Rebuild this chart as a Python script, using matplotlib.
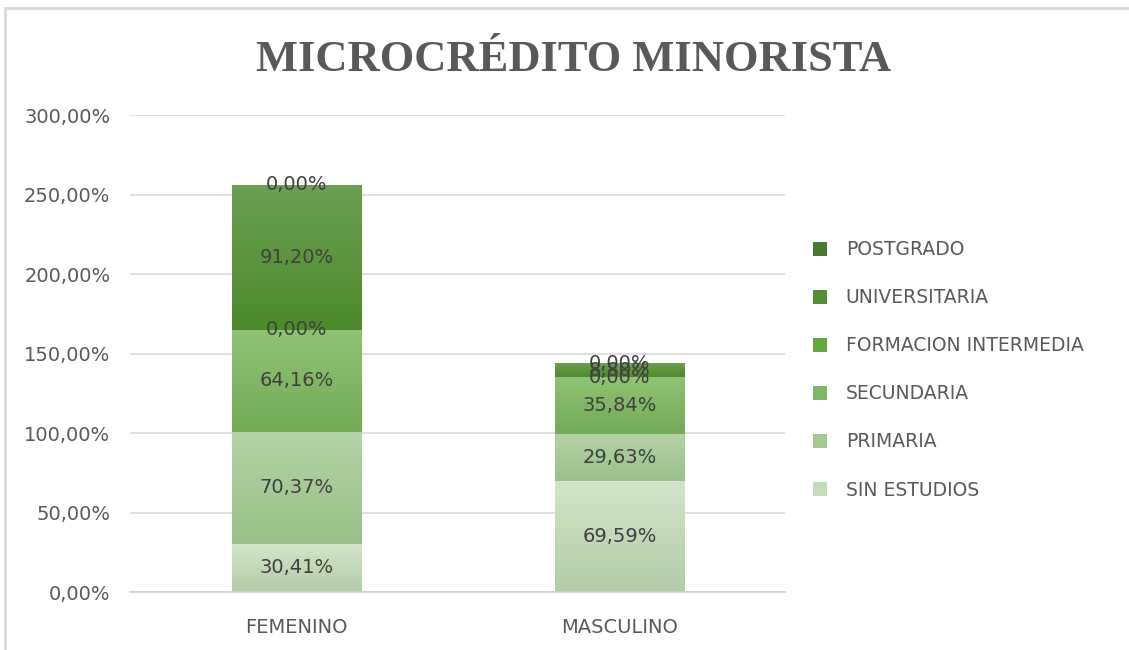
import matplotlib
matplotlib.use("Agg")
import matplotlib.pyplot as plt
import numpy as np
from matplotlib.colors import LinearSegmentedColormap
from matplotlib.patches import Rectangle

categories = ["FEMENINO", "MASCULINO"]
series_names = ["SIN ESTUDIOS", "PRIMARIA", "SECUNDARIA", "FORMACION INTERMEDIA", "UNIVERSITARIA", "POSTGRADO"]
sin_estudios = [30.41, 69.59]
primaria = [70.37, 29.63]
secundaria = [64.16, 35.84]
formacion_intermedia = [0.00, 0.00]
universitaria = [91.20, 8.80]
postgrado = [0.00, 0.00]
series_values = [sin_estudios, primaria, secundaria, formacion_intermedia, universitaria, postgrado]
y_ticks = [0, 50, 100, 150, 200, 250, 300]

legend_colors = ["#c5dcbb", "#a3c993", "#80b868", "#62a83e", "#548f35", "#4a7a2e"]
grad_top = ["#d2e5ca", "#b4d3a6", "#8fc376", "#6cb049", "#6b9f52", "#5a8a3c"]
grad_bot = ["#b2cda7", "#98c087", "#72aa55", "#589a35", "#4c8a2a", "#3f6f25"]

FONT = "DejaVu Sans"

fig = plt.figure(figsize=(11.29, 6.50), dpi=100)
ax = fig.add_axes([0.115, 0.0892, 0.58, 0.7338])

x = np.arange(len(categories))
width = 0.40
bottoms = np.zeros(len(categories))
label_color = "#404040"
for i, (name, vals) in enumerate(zip(series_names, series_values)):
    vals = np.array(vals)
    bars = ax.bar(x, vals, width, bottom=bottoms, color=legend_colors[i], label=name, zorder=2)
    cmap = LinearSegmentedColormap.from_list("g%d" % i, [grad_bot[i], grad_top[i]])
    for b in bars:
        h = b.get_height()
        if h > 0:
            x0 = b.get_x(); y0 = b.get_y(); w = b.get_width()
            grad = np.linspace(0, 1, 64).reshape(-1, 1)
            im = ax.imshow(grad, extent=[x0, x0 + w, y0, y0 + h], origin="lower",
                           cmap=cmap, aspect="auto", zorder=2.5)
            im.set_clip_path(b)
    for xi, v, btm in zip(x, vals, bottoms):
        ax.text(xi, btm + v / 2, ("%.2f%%" % v).replace(".", ","), ha="center", va="center",
                fontsize=14, color=label_color, family=FONT, zorder=4)
    bottoms += vals

ax.set_xlim(-0.517, 1.51)
ax.set_ylim(0, 300)
ax.set_yticks(y_ticks)
ax.set_yticklabels([("%.2f%%" % t).replace(".", ",") for t in y_ticks])
ax.set_xticks(x)
ax.set_xticklabels(categories)
for lab in ax.get_xticklabels() + ax.get_yticklabels():
    lab.set_family(FONT)
    lab.set_fontsize(14)
    lab.set_color("#595959")
ax.tick_params(axis="y", length=0, pad=14)
ax.tick_params(axis="x", length=0, pad=19)
ax.grid(axis="y", color="#d9d9d9", linewidth=1.2, zorder=0)
ax.set_axisbelow(True)
for s in ["top", "right", "left"]:
    ax.spines[s].set_visible(False)
ax.spines["bottom"].set_color("#d0d0d0")
ax.spines["bottom"].set_linewidth(1.2)

fig.text(0.508, 0.907, "MICROCRÉDITO MINORISTA", ha="center", va="center",
         fontsize=32, fontweight="bold", family="Liberation Serif", color="#595959")

handles, labels = ax.get_legend_handles_labels()
leg = fig.legend(handles[::-1], labels[::-1], loc="center left", bbox_to_anchor=(0.705, 0.431),
                 frameon=False, prop={"family": FONT, "size": 13.5}, labelcolor="#595959",
                 handlelength=0.75, handleheight=0.75, handletextpad=1.0, labelspacing=1.55)

fig.add_artist(Rectangle((0.004, -0.01), 1.1, 0.998, transform=fig.transFigure,
                         fill=False, edgecolor="#d9d9d9", linewidth=2))

fig.savefig("out.png", dpi=100)
